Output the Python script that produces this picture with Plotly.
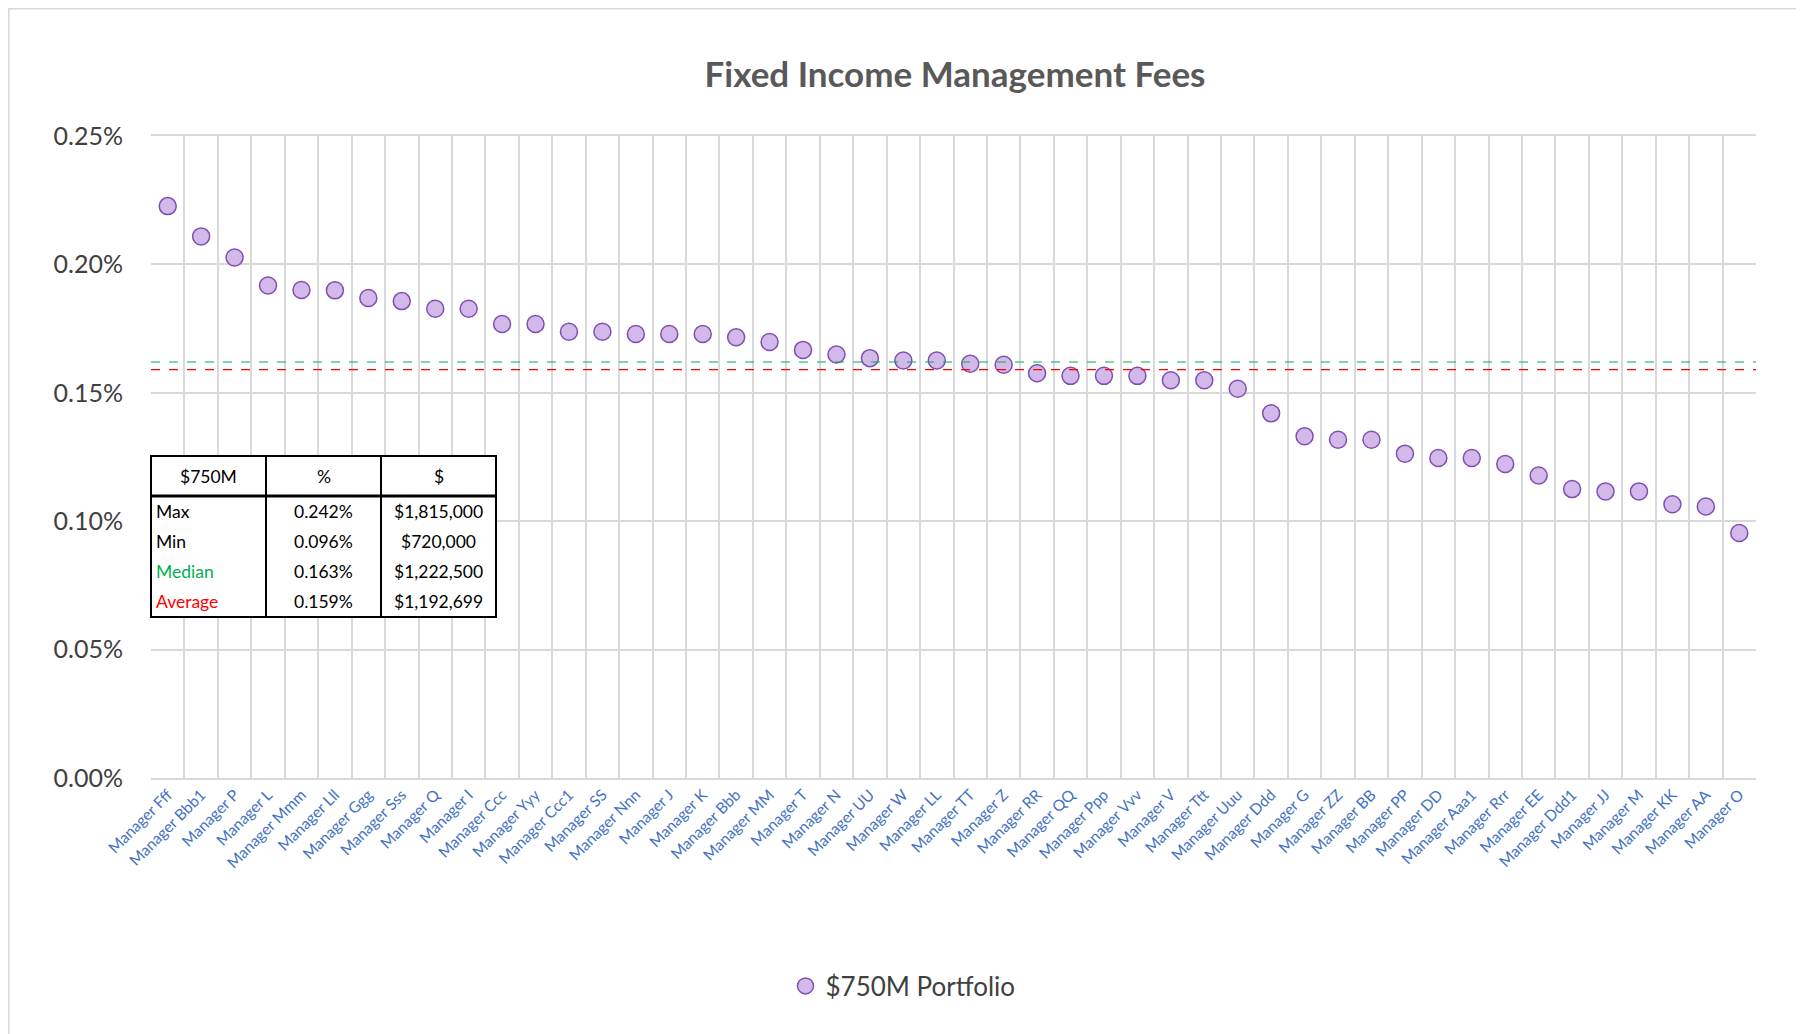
import plotly.graph_objects as go

# ---------------- data ----------------
managers = [
    "Manager Fff", "Manager Bbb1", "Manager P", "Manager L", "Manager Mmm", "Manager Lll",
    "Manager Ggg", "Manager Sss", "Manager Q", "Manager I", "Manager Ccc", "Manager Yyy",
    "Manager Ccc1", "Manager SS", "Manager Nnn", "Manager J", "Manager K", "Manager Bbb",
    "Manager MM", "Manager T", "Manager N", "Manager UU", "Manager W", "Manager LL",
    "Manager TT", "Manager Z", "Manager RR", "Manager QQ", "Manager Ppp", "Manager Vvv",
    "Manager V", "Manager Ttt", "Manager Uuu", "Manager Ddd", "Manager G", "Manager ZZ",
    "Manager BB", "Manager PP", "Manager DD", "Manager Aaa1", "Manager Rrr", "Manager EE",
    "Manager Ddd1", "Manager JJ", "Manager M", "Manager KK", "Manager AA", "Manager O",
]
fees_pct = [
    0.2227, 0.2109, 0.2027, 0.1918, 0.1900, 0.1899,
    0.1869, 0.1857, 0.1827, 0.1827, 0.1768, 0.1768,
    0.1738, 0.1738, 0.1729, 0.1729, 0.1729, 0.1716,
    0.1698, 0.1667, 0.1649, 0.1635, 0.1626, 0.1626,
    0.1613, 0.1609, 0.1576, 0.1566, 0.1566, 0.1566,
    0.1549, 0.1549, 0.1516, 0.1420, 0.1331, 0.1317,
    0.1317, 0.1263, 0.1246, 0.1246, 0.1223, 0.1178,
    0.1125, 0.1116, 0.1116, 0.1066, 0.1057, 0.0954,
]
median_line = 0.162
average_line = 0.159
y_ticks = [0.00, 0.05, 0.10, 0.15, 0.20, 0.25]

table_header = ["$750M", "%", "$"]
table_labels = ["Max", "Min", "Median", "Average"]
table_pct = ["0.242%", "0.096%", "0.163%", "0.159%"]
table_usd = ["$1,815,000", "$720,000", "$1,222,500", "$1,192,699"]
label_colors = ["#000000", "#000000", "#00B050", "#FF0000"]

series_name = "$750M Portfolio"
title_text = "Fixed Income Management Fees"

# ---------------- layout geometry (page pixels; page has an 8px body offset) ----------------
OFF = 8
W, H = 1804, 1034
PLOT_L, PLOT_R, PLOT_T, PLOT_B = 151, 1756, 136, 778  # in page pixels
L = PLOT_L - OFF
T = PLOT_T - OFF
R = W - (PLOT_R - OFF)
B = H - (PLOT_B - OFF)
PW, PH = PLOT_R - PLOT_L, PLOT_B - PLOT_T


def px(x):  # page x -> paper
    return (x - PLOT_L) / PW


def py(y):  # page y -> paper
    return (PLOT_B - y) / PH


FONT = "Lato"

fig = go.Figure()
fig.add_trace(go.Scatter(
    x=managers, y=fees_pct, mode="markers", name=series_name,
    marker=dict(size=17, color="#D3B9E9", line=dict(color="#7E4FB3", width=1.5)),
    showlegend=True,
))

shapes = []
shapes.append(dict(type="line", xref="paper", yref="y", x0=0, x1=1,
                   y0=median_line, y1=median_line,
                   line=dict(color="#00B050", width=1.2, dash="dash")))
shapes.append(dict(type="line", xref="paper", yref="y", x0=0, x1=1,
                   y0=average_line, y1=average_line,
                   line=dict(color="#FF0000", width=1.2, dash="dash")))

# table
tx0, tx1 = 151, 496
ty0, ty1 = 456, 617
col_x = [151, 266, 381, 496]
hdr_y = 496
shapes.append(dict(type="rect", xref="paper", yref="paper",
                   x0=px(tx0), x1=px(tx1), y0=py(ty1), y1=py(ty0),
                   fillcolor="white", line=dict(color="black", width=2), layer="above"))
shapes.append(dict(type="line", xref="paper", yref="paper",
                   x0=px(tx0), x1=px(tx1), y0=py(hdr_y), y1=py(hdr_y),
                   line=dict(color="black", width=3), layer="above"))
for cx in col_x[1:3]:
    shapes.append(dict(type="line", xref="paper", yref="paper",
                       x0=px(cx), x1=px(cx), y0=py(ty1), y1=py(ty0),
                       line=dict(color="black", width=2), layer="above"))

# outer chart border
shapes.append(dict(type="rect", xref="paper", yref="paper",
                   x0=px(OFF + 0.8), x1=px(1797), y0=py(1060), y1=py(OFF + 0.8),
                   line=dict(color="#D9D9D9", width=1.5), layer="below"))

annotations = []
tfont = 17.5
for i, h in enumerate(table_header):
    annotations.append(dict(xref="paper", yref="paper",
                            x=px((col_x[i] + col_x[i + 1]) / 2), y=py(476),
                            text=h, showarrow=False, xanchor="center", yanchor="middle",
                            font=dict(family=FONT, size=tfont, color="black")))
row_y = [511, 541, 571, 601]
for r in range(4):
    annotations.append(dict(xref="paper", yref="paper", x=px(154), y=py(row_y[r]),
                            text=table_labels[r], showarrow=False, xanchor="left", yanchor="middle",
                            font=dict(family=FONT, size=tfont, color=label_colors[r])))
    annotations.append(dict(xref="paper", yref="paper", x=px((col_x[1] + col_x[2]) / 2), y=py(row_y[r]),
                            text=table_pct[r], showarrow=False, xanchor="center", yanchor="middle",
                            font=dict(family=FONT, size=tfont, color="black")))
    annotations.append(dict(xref="paper", yref="paper", x=px((col_x[2] + col_x[3]) / 2), y=py(row_y[r]),
                            text=table_usd[r], showarrow=False, xanchor="center", yanchor="middle",
                            font=dict(family=FONT, size=tfont, color="black")))

fig.update_layout(
    width=W, height=H,
    margin=dict(l=L, r=R, t=T, b=B, autoexpand=False),
    paper_bgcolor="white", plot_bgcolor="white",
    title=dict(text="<b>" + title_text + "</b>", x=px(955), xref="paper", xanchor="center",
               y=1 - (75 - OFF) / H, yref="container", yanchor="middle",
               font=dict(family=FONT, size=35, color="#595959")),
    xaxis=dict(type="category", range=[-0.5, len(managers) - 0.5],
               tickson="boundaries", showgrid=True, gridcolor="#D9D9D9", gridwidth=1.5,
               ticks="", tickangle=-45, showline=True, linecolor="#D9D9D9", linewidth=1.5,
               mirror=True,
               tickfont=dict(family=FONT, size=15.5, color="#4472C4")),
    yaxis=dict(range=[0, 0.25], tickvals=y_ticks,
               ticktext=[f"{v:.2f}%" for v in y_ticks],
               showgrid=True, gridcolor="#D9D9D9", gridwidth=1.5, zeroline=False,
               ticks="", ticklabelstandoff=27,
               tickfont=dict(family=FONT, size=25, color="#404040")),
    legend=dict(orientation="h", x=px(903), xanchor="center", y=py(986), yanchor="middle",
                font=dict(family=FONT, size=26, color="#404040")),
    shapes=shapes,
    annotations=annotations,
)

fig.write_html("out.html")
